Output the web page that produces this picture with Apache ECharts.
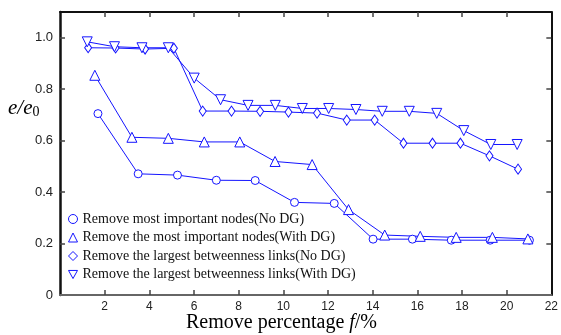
<!DOCTYPE html>
<html>
<head>
<meta charset="utf-8">
<script src="https://cdn.jsdelivr.net/npm/echarts@6/dist/echarts.min.js"></script>
<style>
html, body { margin: 0; padding: 0; background: #fff; }
#chart { width: 561px; height: 335px; }
</style>
</head>
<body>
<div id="chart"></div>
<script>
// 数据
var seriesNames = ['Remove most important nodes(No DG)', 'Remove the most important nodes(With DG)', 'Remove the largest betweenness links(No DG)', 'Remove the largest betweenness links(With DG)'];
var nodesNoDgX = [1.7, 3.5, 5.26, 7.0, 8.74, 10.5, 12.28, 14.02, 15.78, 17.52, 19.26, 21.02];
var nodesNoDgY = [0.705, 0.471, 0.466, 0.446, 0.445, 0.360, 0.356, 0.217, 0.217, 0.213, 0.213, 0.213];
var nodesDgX = [1.56, 3.22, 4.85, 6.46, 8.05, 9.63, 11.29, 12.92, 14.54, 16.13, 17.74, 19.36, 20.95];
var nodesDgY = [0.854, 0.613, 0.609, 0.595, 0.595, 0.519, 0.507, 0.332, 0.233, 0.228, 0.224, 0.224, 0.218];
var linksNoDgX = [1.26, 2.49, 3.81, 5.10, 6.39, 7.68, 8.96, 10.23, 11.51, 12.84, 14.09, 15.38, 16.68, 17.93, 19.23, 20.51];
var linksNoDgY = [0.961, 0.960, 0.956, 0.959, 0.715, 0.715, 0.714, 0.711, 0.707, 0.680, 0.680, 0.590, 0.590, 0.590, 0.541, 0.489];
var linksDgX = [1.22, 2.44, 3.67, 4.85, 6.01, 7.19, 8.42, 9.64, 10.85, 12.03, 13.25, 14.43, 15.64, 16.87, 18.08, 19.29, 20.47];
var linksDgY = [0.984, 0.965, 0.961, 0.961, 0.843, 0.759, 0.737, 0.737, 0.725, 0.725, 0.721, 0.714, 0.714, 0.706, 0.639, 0.585, 0.585];
var xTicks = [2, 4, 6, 8, 10, 12, 14, 16, 18, 20, 22];
var yTicks = [0, 0.2, 0.4, 0.6, 0.8, 1.0];

var blue = '#1414ff';
var serif = '"Liberation Serif", "DejaVu Serif", serif';
var sans = '"Liberation Sans", Arial, sans-serif';

function pairs(xs, ys) {
	var d = [];
	for (var i = 0; i < xs.length; i++) {
		d.push([xs[i], ys[i]]);
	}
	return d;
}

function makeSeries(name, xs, ys, symbol, size) {
	return {
		name : name,
		type : 'line',
		data : pairs(xs, ys),
		symbol : symbol,
		symbolSize : size,
		showAllSymbol : true,
		lineStyle : { color : blue, width : 1 },
		itemStyle : { color : '#fff', borderColor : blue, borderWidth : 1 },
		emphasis : { disabled : true },
		z : 3
	};
}

// 倒三角
var invTri = 'path://M0,0 L10,0 L5,9 Z';

var myChart = echarts.init(document.getElementById('chart'));
var option = {
	animation : false,
	grid : { left : 60, right : 4, top : 12, bottom : 40 },
	legend : {
		orient : 'vertical',
		left : 63,
		top : 207,
		itemWidth : 9,
		itemHeight : 9,
		itemGap : 4.5,
		selectedMode : false,
		textStyle : { fontFamily : serif, fontSize : 14, color : '#111' },
		itemStyle : { color : '#fff', borderColor : blue, borderWidth : 1 },
		data : [
			{ name : seriesNames[0], icon : 'circle' },
			{ name : seriesNames[1], icon : 'triangle' },
			{ name : seriesNames[2], icon : 'diamond' },
			{ name : seriesNames[3], icon : invTri }
		]
	},
	xAxis : [{
		type : 'value',
		min : 0,
		max : 22,
		interval : 2,
		axisLine : { lineStyle : { color : '#666', width : 2 } },
		axisTick : { inside : true, length : 5, lineStyle : { color : '#444', width : 1.5 }, customValues : xTicks.slice(0, 10) },
		axisLabel : { fontFamily : sans, fontSize : 12, color : '#222', margin : 6, customValues : xTicks },
		splitLine : { show : false }
	}, {
		type : 'value',
		position : 'top',
		min : 0,
		max : 22,
		interval : 2,
		axisLine : { onZero : false, lineStyle : { color : '#111', width : 2 } },
		axisTick : { inside : true, length : 5, lineStyle : { color : '#444', width : 1.5 }, customValues : xTicks.slice(0, 10) },
		axisLabel : { show : false },
		splitLine : { show : false }
	}],
	yAxis : [{
		type : 'value',
		min : 0,
		max : 1.1,
		interval : 0.2,
		axisLine : { show : true, lineStyle : { color : '#111', width : 2.5 } },
		axisTick : { show : true, inside : true, length : 5, lineStyle : { color : '#444', width : 1.5 }, customValues : yTicks.slice(1) },
		axisLabel : {
			fontFamily : sans, fontSize : 13, color : '#222', margin : 7,
			customValues : yTicks,
			formatter : function(v) { return v === 0 ? '0' : v.toFixed(1); }
		},
		splitLine : { show : false }
	}, {
		type : 'value',
		position : 'right',
		min : 0,
		max : 1.1,
		interval : 0.2,
		axisLine : { show : true, onZero : false, lineStyle : { color : '#111', width : 2 } },
		axisTick : { show : true, inside : true, length : 5, lineStyle : { color : '#444', width : 1.5 }, customValues : yTicks.slice(1) },
		axisLabel : { show : false },
		splitLine : { show : false }
	}],
	graphic : [{
		// 纵轴名称
		type : 'text',
		left : 8,
		top : 98,
		style : {
			text : '{i|e}{n|/}{i|e}{s|0}',
			rich : {
				i : { fontFamily : serif, fontStyle : 'italic', fontSize : 21, color : '#111', lineHeight : 24, verticalAlign : 'bottom' },
				n : { fontFamily : serif, fontStyle : 'italic', fontSize : 21, color : '#111', lineHeight : 24, verticalAlign : 'bottom' },
				s : { fontFamily : serif, fontSize : 14, color : '#111', lineHeight : 18, verticalAlign : 'bottom' }
			}
		}
	}, {
		// 横轴名称
		type : 'text',
		left : 186,
		top : 313,
		style : {
			text : '{a|Remove percentage }{b|f}{a|/%}',
			rich : {
				a : { fontFamily : serif, fontSize : 20, color : '#111' },
				b : { fontFamily : serif, fontStyle : 'italic', fontSize : 20, color : '#111' }
			}
		}
	}],
	series : [
		makeSeries(seriesNames[0], nodesNoDgX, nodesNoDgY, 'circle', 8),
		makeSeries(seriesNames[1], nodesDgX, nodesDgY, 'triangle', 10),
		makeSeries(seriesNames[2], linksNoDgX, linksNoDgY, 'diamond', [7, 10]),
		makeSeries(seriesNames[3], linksDgX, linksDgY, invTri, 10)
	]
};
myChart.setOption(option);
</script>
</body>
</html>
